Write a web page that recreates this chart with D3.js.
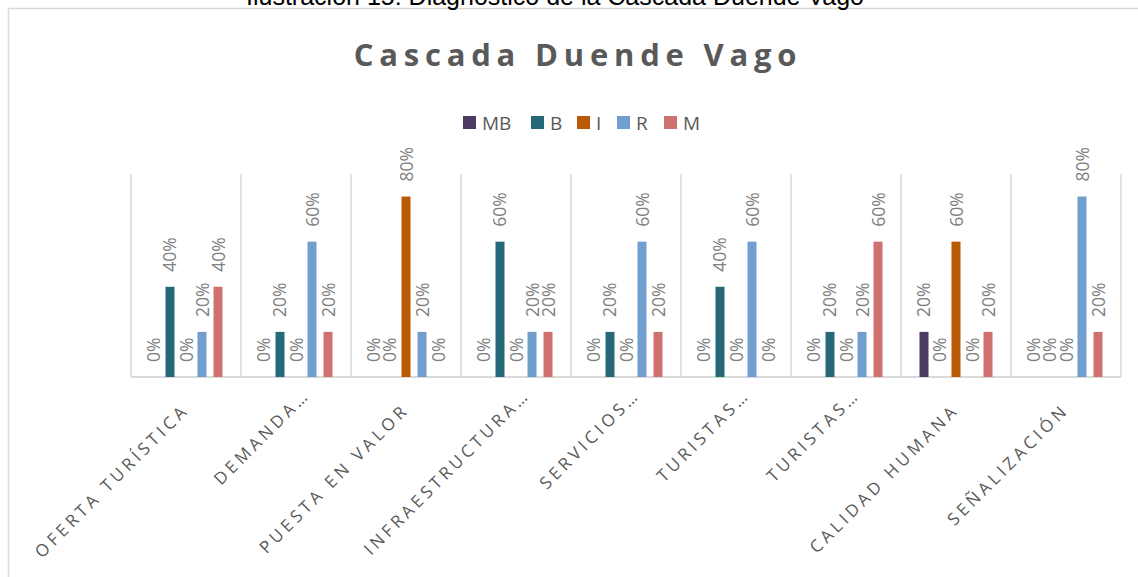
<!DOCTYPE html>
<html>
<head>
<meta charset="utf-8">
<script src="https://cdn.jsdelivr.net/npm/d3@7"></script>
<style>
  body { margin: 0; background: #fff; }
  svg { display: block; }
</style>
</head>
<body>
<script>
// categories and series
const categories = ["OFERTA TURÍSTICA", "DEMANDA…", "PUESTA EN VALOR", "INFRAESTRUCTURA…",
    "SERVICIOS…", "TURISTAS…", "TURISTAS… ", "CALIDAD HUMANA", "SEÑALIZACIÓN"];
const seriesNames = ["MB", "B", "I", "R", "M"];
const MB = [0, 0, 0, 0, 0, 0, 0, 0.2, 0];
const B  = [0.4, 0.2, 0, 0.6, 0.2, 0.4, 0.2, 0, 0];
const I  = [0, 0, 0.8, 0, 0, 0, 0, 0.6, 0];
const R  = [0.2, 0.6, 0.2, 0.2, 0.6, 0.6, 0.2, 0, 0.8];
const M  = [0.4, 0.2, 0, 0.2, 0.2, 0, 0.6, 0.2, 0.2];
const seriesValues = [MB, B, I, R, M];
const colors = ["#4b3a62", "#256878", "#b85a06", "#729dcf", "#cf716f"];

const W = 1138, H = 577;
const plot = {left: 131, right: 1121, top: 174, bottom: 377};

const svg = d3.select("body").append("svg")
    .attr("width", W)
    .attr("height", H);

// chart frame
svg.append("rect")
    .attr("x", 8.5)
    .attr("y", 8.5)
    .attr("width", 1140)
    .attr("height", 600)
    .style("fill", "#fff")
    .style("stroke", "#d9d9d9")
    .style("stroke-width", 1.5);

// caption of the document, cut by the top edge
svg.append("text")
    .attr("x", 555)
    .attr("y", 5)
    .attr("text-anchor", "middle")
    .style("font-family", "'Liberation Sans', Arial, sans-serif")
    .style("font-size", "25px")
    .style("fill", "#000")
    .text("Ilustración 15: Diagnóstico de la Cascada Duende Vago");

svg.append("text")
    .attr("x", 578)
    .attr("y", 66)
    .attr("text-anchor", "middle")
    .style("font-family", "'Open Sans', sans-serif")
    .style("font-weight", "bold")
    .style("font-size", "31px")
    .style("letter-spacing", "5.8px")
    .style("fill", "#595959")
    .text("Cascada Duende Vago");

const x0 = d3.scaleBand()
    .domain(d3.range(categories.length))
    .range([plot.left, plot.right]);

const x1 = d3.scaleBand()
    .domain(seriesNames)
    .range([0, x0.bandwidth()])
    .paddingInner(0.4375)
    .paddingOuter(1.156);

const y = d3.scaleLinear()
    .domain([0, 0.9])
    .range([plot.bottom, plot.top]);

// vertical category separators
svg.append("g")
    .selectAll("line")
    .data(d3.range(categories.length + 1))
    .enter().append("line")
    .attr("x1", d => d < categories.length ? x0(d) : plot.right)
    .attr("x2", d => d < categories.length ? x0(d) : plot.right)
    .attr("y1", plot.top)
    .attr("y2", plot.bottom)
    .style("stroke", "#d9d9d9")
    .style("stroke-width", 1.5);

svg.append("line")
    .attr("x1", plot.left)
    .attr("x2", plot.right)
    .attr("y1", plot.bottom)
    .attr("y2", plot.bottom)
    .style("stroke", "#d9d9d9")
    .style("stroke-width", 2);

const pts = [];
seriesNames.forEach((s, si) => {
    seriesValues[si].forEach((v, ci) => pts.push({s: s, si: si, ci: ci, v: v}));
});

svg.append("g")
    .selectAll("rect")
    .data(pts.filter(d => d.v > 0))
    .enter().append("rect")
    .attr("x", d => x0(d.ci) + x1(d.s))
    .attr("y", d => y(d.v))
    .attr("width", x1.bandwidth())
    .attr("height", d => y(0) - y(d.v))
    .style("fill", d => colors[d.si]);

// data labels, vertical
svg.append("g")
    .selectAll("text")
    .data(pts)
    .enter().append("text")
    .attr("transform", d => "translate(" + (x0(d.ci) + x1(d.s) + x1.bandwidth() / 2 + 6.5) + "," + (y(d.v) - 15) + ") rotate(-90)")
    .style("font-family", "'Open Sans', sans-serif")
    .style("font-size", "17.5px")
    .style("fill", "#808080")
    .text(d => Math.round(d.v * 100) + "%");

// legend
const legendX = [463, 531, 577, 617, 664];
const legend = svg.append("g")
    .selectAll("g")
    .data(seriesNames)
    .enter().append("g")
    .attr("transform", (d, i) => "translate(" + legendX[i] + ",116)");
legend.append("rect")
    .attr("width", 13)
    .attr("height", 13)
    .style("fill", (d, i) => colors[i]);
legend.append("text")
    .attr("x", 19)
    .attr("y", 13.5)
    .style("font-family", "'Open Sans', sans-serif")
    .style("font-size", "19px")
    .style("fill", "#595959")
    .text(d => d);

// category labels at -45 degrees; shortened ones sit higher, as in the source
svg.append("g")
    .selectAll("text")
    .data(categories)
    .enter().append("text")
    .attr("transform", (d, i) => {
        const cut = d.trim().endsWith("…");
        const cx = x0(i) + x0.bandwidth() / 2;
        return "translate(" + (cx + (cut ? 15 : 4)) + "," + (cut ? 396 : 411) + ") rotate(-45)";
    })
    .attr("text-anchor", "end")
    .style("font-family", "'Open Sans', sans-serif")
    .style("font-size", "17px")
    .style("letter-spacing", "3.8px")
    .style("fill", "#595959")
    .text(d => d.trim());
</script>
</body>
</html>
